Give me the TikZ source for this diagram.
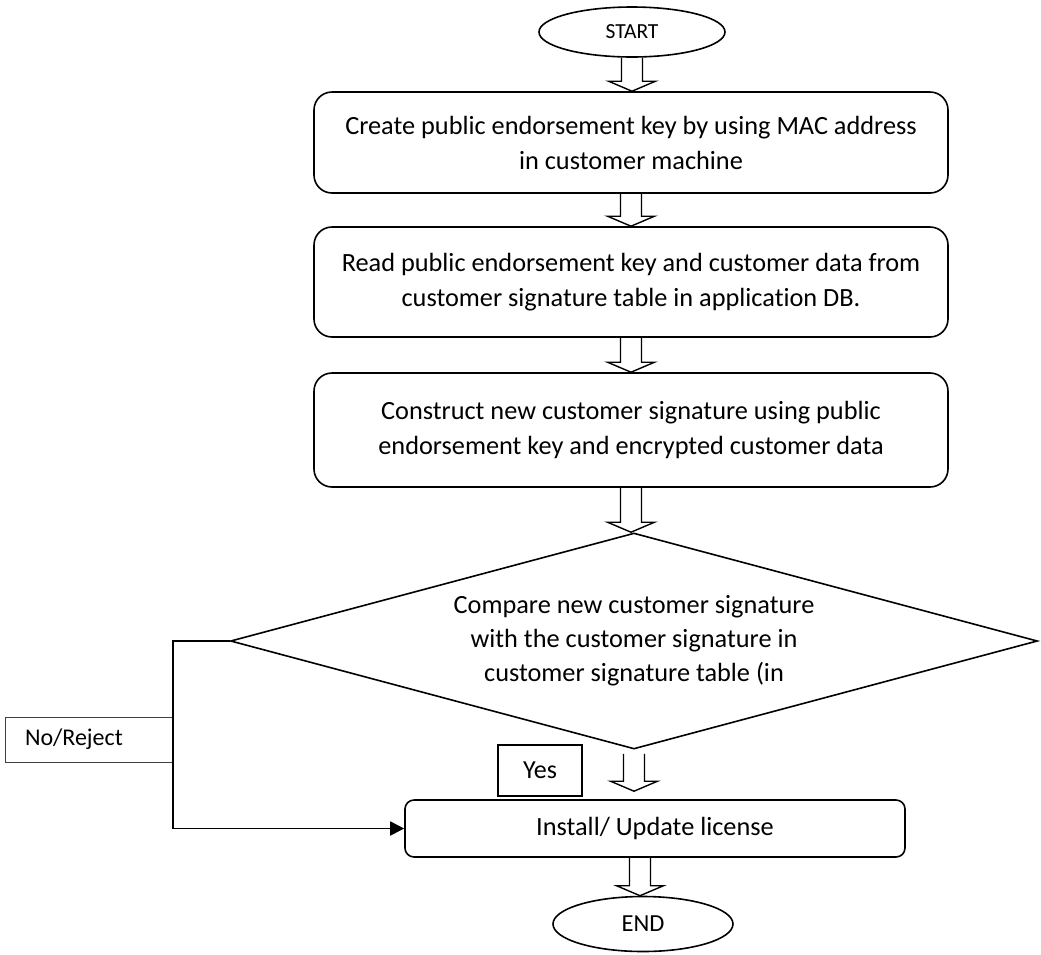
\documentclass[tikz,border=0pt]{standalone}
\usepackage{fontspec}
\setmainfont{Carlito}[Ligatures=NoCommon]
\usepackage{tikz}
\usetikzlibrary{shapes.geometric, arrows.meta, calc}
\tikzstyle{Process}=[rectangle, rounded corners=18, minimum width=634, minimum height=104, align=center, draw=black, line width=1.6, font=\fontsize{26.3}{35}\selectfont]
\tikzstyle{Terminal}=[ellipse, minimum width=186, minimum height=50, inner sep=0, draw=black, line width=1.6]
\tikzstyle{Decision}=[diamond, aspect=3.74, minimum width=807, minimum height=216, inner sep=0, align=center, draw=black, line width=1.6, font=\fontsize{26.3}{34}\selectfont]
\tikzstyle{Tag}=[rectangle, draw=black, line width=1.2, font=\fontsize{26}{30}\selectfont]
\tikzstyle{Hollow}=[draw=black, line width=1.4, line join=miter]
\tikzstyle{Flow}=[draw=black, line width=1.8, -{Triangle[length=14pt,width=14pt]}]

\newcommand{\blockarrow}[2]{%
  \draw[Hollow] let \p1=(#1), \p2=(#2) in
    (\x1-10.5pt,\y1) -- (\x1-10.5pt,\y2+10pt) -- (\x1-23.5pt,\y2+10pt) -- (\x1,\y2)
    -- (\x1+23.5pt,\y2+10pt) -- (\x1+10.5pt,\y2+10pt) -- (\x1+10.5pt,\y1);}

\begin{document}
\begin{tikzpicture}[x=1pt, y=-1pt]
    \useasboundingbox (0,0) rectangle (1041,954);
    \path
    (632,32) node[Terminal, font=\fontsize{21.5}{24}\selectfont] (start) {START}
    (631,142.5) node[Process, minimum height=101] (create) {Create public endorsement key by using MAC address\\in customer machine}
    (631,282) node[Process, minimum height=110] (read) {Read public endorsement key and customer data from\\customer signature table in application DB.}
    (631,430) node[Process, minimum height=114] (construct) {Construct new customer signature using public\\endorsement key and encrypted customer data}
    (634,641) node[Decision] (compare) {\raisebox{-4pt}{\begin{tabular}{@{}c@{}}Compare new customer signature\\with the customer signature in\\customer signature table (in\end{tabular}}};

    \path
    (655,828.5) node[Process, rounded corners=9, minimum width=500, minimum height=57] (install) {Install/ Update license}
    (643,924) node[Terminal, minimum width=180, minimum height=55, font=\fontsize{24.5}{28}\selectfont] (end) {END}
    (540,770.5) node[Tag, minimum width=84, minimum height=51] (yes) {Yes}
    (88.5,739.5) node[Tag, draw=black!75, line width=0.8, minimum height=45, text width=127, inner xsep=20, align=left, font=\fontsize{24}{28}\selectfont] (no) {No/Reject};

    % hollow arrows down the chart
    \blockarrow{start.south}{create.north}
    \blockarrow{create.south}{read.north}
    \blockarrow{read.south}{construct.north}
    \blockarrow{construct.south}{compare.north}
    \blockarrow{[yshift=-4pt]compare.south}{[yshift=8pt]install.north}
    \blockarrow{[xshift=-15pt]install.south}{end.north}

    \draw[Flow] (compare.west) -- ++(-57,0) |- (install.west);
\end{tikzpicture}
\end{document}
